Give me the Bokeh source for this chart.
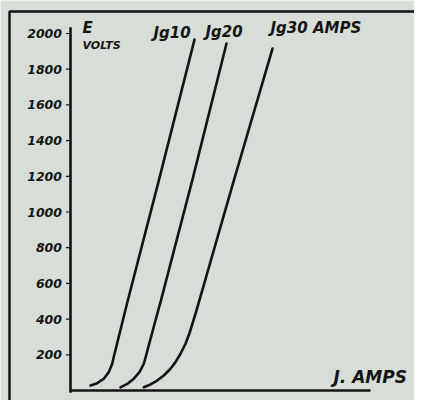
from bokeh.plotting import figure
from bokeh.models import Range1d, BoxAnnotation
from bokeh.core.properties import value
from bokeh.embed import file_html
from bokeh.resources import INLINE

# ---- data ----
tick_values = [200, 400, 600, 800, 1000, 1200, 1400, 1600, 1800, 2000]
tick_labels = ["200", "400", "600", "800", "1000", "1200", "1400", "1600", "1800", "2000"]

jg10_amps = [2.0, 2.67, 3.33, 3.83, 4.17, 4.36, 4.57, 5.15, 5.73, 8.83, 12.4]
jg10_volts = [28, 41, 66, 103, 150, 196, 243, 374, 504, 1176, 1966]

jg20_amps = [5.0, 5.67, 6.33, 6.9, 7.33, 7.56, 7.78, 8.41, 9.04, 12.17, 15.6]
jg20_volts = [18, 37, 66, 103, 150, 196, 243, 374, 504, 1176, 1944]

jg30_amps = [7.33, 8.0, 8.67, 9.33, 10.0, 10.5, 11.0, 11.5, 11.88, 12.5, 13.17, 16.33, 20.2]
jg30_volts = [18, 34, 56, 84, 122, 159, 206, 262, 318, 430, 560, 1176, 1916]

series_labels = ["Jg10", "Jg20", "Jg30 AMPS"]
series_label_x = [8.3, 13.5, 20.0]
series_label_y = [2003, 2011, 2031]

x_axis_max = 30.0
y_axis_top = 2035
y_axis_bottom = -12

BG = "#d7ded8"
INK = "#141414"
FONT = value("DejaVu Sans")

p = figure(width=414, height=400, output_backend="svg", toolbar_location=None,
           x_range=Range1d(-7.0, 34.4), y_range=Range1d(-56, 2185),
           x_axis_location=None, y_axis_location=None, min_border=0)
p.background_fill_color = BG
p.border_fill_color = BG
p.grid.visible = False
p.outline_line_color = None

# outer drawing frame
p.add_layout(BoxAnnotation(left=-6.1, right=60, top=2123, bottom=-500,
                           fill_alpha=0, line_color=INK, line_alpha=1.0, line_width=2.5))

# axes drawn in data space
p.segment(x0=[0, 0], y0=[y_axis_bottom, 0], x1=[0, x_axis_max], y1=[y_axis_top, 0],
          line_color=INK, line_width=2.6)
# tick marks
p.segment(x0=[-0.45] * len(tick_values), y0=tick_values, x1=[0] * len(tick_values), y1=tick_values,
          line_color=INK, line_width=1.2)
p.text(x=[-0.85] * len(tick_values), y=tick_values, text=tick_labels,
       text_align="right", text_baseline="middle", text_font=FONT,
       text_font_size="12.5px", text_font_style="bold italic", text_color=INK)

# curves
for xs, ys in [(jg10_amps, jg10_volts), (jg20_amps, jg20_volts), (jg30_amps, jg30_volts)]:
    p.line(xs, ys, line_color=INK, line_width=2.6, line_join="round", line_cap="round")

# series labels
p.text(x=series_label_x, y=series_label_y, text=series_labels, text_align="left",
       text_baseline="middle", text_font=FONT, text_font_size="15px",
       text_font_style="bold italic", text_color=INK)

# axis titles
p.text(x=[1.2, 1.2], y=[2031, 1933], text=["E", "VOLTS"], text_align="left",
       text_baseline="middle", text_font=FONT, text_font_size=["15px", "11px"],
       text_font_style="bold italic", text_color=INK)
p.text(x=[26.3], y=[73], text=["J. AMPS"], text_align="left", text_baseline="middle",
       text_font=FONT, text_font_size="17px", text_font_style="bold italic", text_color=INK)

html = file_html(p, INLINE)
html = html.replace("<body>", '<body style="background:%s">' % BG, 1)
open("out.html", "w").write(html)
